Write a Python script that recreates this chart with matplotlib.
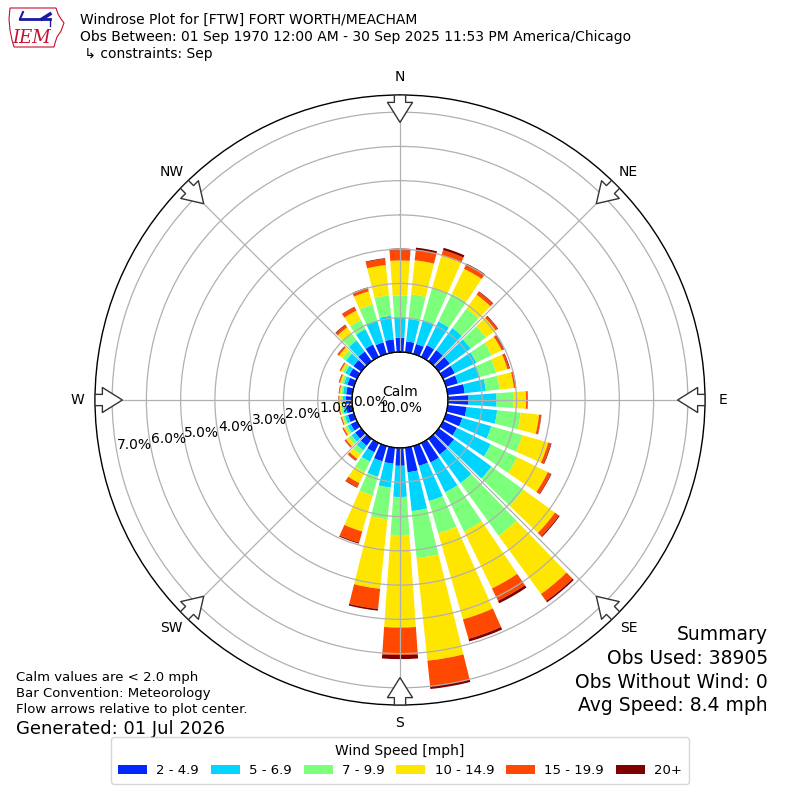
import matplotlib
matplotlib.use('Agg')
import matplotlib.pyplot as plt
from matplotlib.patches import Patch, Polygon
import numpy as np

# direccion (centro del sector, grados desde el norte) - 36 sectores de 10 grados
directions = np.arange(0, 360, 10)

speed_labels = ['2 - 4.9', '5 - 6.9', '7 - 9.9', '10 - 14.9', '15 - 19.9', '20+']
speed_colors = ['#0028ff', '#00d4ff', '#7cff7a', '#ffe600', '#ff4800', '#800000']

# frecuencia (%) por sector para cada intervalo de velocidad
pct_2_5 = [0.42, 0.32, 0.30, 0.38, 0.40, 0.40, 0.38, 0.36, 0.50, 0.60,
           0.55, 0.49, 0.45, 0.55, 0.57, 0.63, 0.60, 0.72, 0.52, 0.47,
           0.46, 0.30, 0.25, 0.22, 0.20, 0.18, 0.18, 0.18, 0.18, 0.20,
           0.25, 0.28, 0.35, 0.40, 0.35, 0.38]
pct_5_7 = [0.60, 0.66, 0.73, 0.77, 0.80, 0.75, 0.70, 0.67, 0.62, 0.82,
           0.90, 0.88, 1.10, 1.35, 1.03, 0.97, 1.07, 1.14, 0.91, 0.70,
           0.47, 0.30, 0.17, 0.13, 0.10, 0.09, 0.09, 0.09, 0.09, 0.10,
           0.13, 0.27, 0.40, 0.50, 0.65, 0.69]
pct_7_10 = [0.63, 0.72, 0.97, 0.90, 0.70, 0.55, 0.50, 0.49, 0.40, 0.49,
            0.69, 0.94, 0.86, 1.15, 1.90, 1.27, 0.98, 1.38, 1.11, 0.93,
            0.57, 0.35, 0.15, 0.11, 0.07, 0.06, 0.06, 0.06, 0.06, 0.07,
            0.08, 0.13, 0.25, 0.30, 0.50, 0.60]
pct_10_15 = [1.02, 1.00, 0.98, 0.81, 0.50, 0.35, 0.32, 0.34, 0.42, 0.37,
             0.54, 0.79, 0.99, 1.14, 2.10, 1.85, 2.61, 3.01, 2.70, 2.04,
             1.09, 0.35, 0.15, 0.09, 0.06, 0.04, 0.04, 0.04, 0.04, 0.05,
             0.06, 0.12, 0.22, 0.30, 0.40, 0.89]
pct_15_20 = [0.30, 0.30, 0.17, 0.14, 0.10, 0.07, 0.06, 0.06, 0.05, 0.04,
             0.06, 0.08, 0.10, 0.14, 0.25, 0.40, 0.59, 0.75, 0.80, 0.59,
             0.34, 0.13, 0.07, 0.04, 0.03, 0.02, 0.02, 0.02, 0.02, 0.03,
             0.03, 0.05, 0.08, 0.12, 0.10, 0.18]
pct_20 = [0.05, 0.07, 0.07, 0.03, 0.02, 0.02, 0.02, 0.02, 0.02, 0.01,
          0.01, 0.02, 0.02, 0.03, 0.05, 0.08, 0.08, 0.08, 0.12, 0.05,
          0.03, 0.02, 0.01, 0.01, 0.01, 0.01, 0.01, 0.01, 0.01, 0.01,
          0.01, 0.01, 0.02, 0.01, 0.02, 0.02]

calm_pct = 10.0
r_ticks = [0, 1, 2, 3, 4, 5, 6, 7]
compass = ['N', 'NE', 'E', 'SE', 'S', 'SW', 'W', 'NW']

fig = plt.figure(figsize=(8, 8), dpi=100)
ax = fig.add_axes([95 / 800, 95 / 800, 610 / 800, 610 / 800], projection='polar')
ax.set_theta_zero_location('N')
ax.set_theta_direction(-1)
ax.set_rorigin(-1.4)
ax.set_ylim(0, 7.5)

theta = np.deg2rad(directions)
width = np.deg2rad(8)
bottom = np.zeros(len(directions))
for vals, col in zip([pct_2_5, pct_5_7, pct_7_10, pct_10_15, pct_15_20, pct_20], speed_colors):
    vals = np.array(vals)
    ax.bar(theta, vals, width=width, bottom=bottom, color=col, linewidth=0, zorder=2)
    bottom = bottom + vals

# borde del circulo de calmas
circ = np.linspace(0, 2 * np.pi, 361)
ax.plot(circ, np.zeros_like(circ), color='black', lw=1, zorder=4, clip_on=False)

# rejilla (por encima de las barras, como en el original)
ax.set_axisbelow(False)
ax.set_xticks(np.deg2rad(np.arange(0, 360, 45)))
ax.set_xticklabels(compass, fontsize=10)
ax.tick_params(axis='x', pad=2.5)
ax.set_yticks(r_ticks)
ax.set_yticklabels(['%.1f%%' % v for v in r_ticks], fontsize=10)
ax.set_rlabel_position(259.5)
ax.grid(True, color='#b0b0b0', linewidth=0.9)
ax.spines['polar'].set_linewidth(1.0)

# flechas de flujo hacia el centro
for d in np.arange(0, 360, 45):
    ax.annotate('', xy=(np.deg2rad(d), 6.62), xytext=(np.deg2rad(d), 7.58),
                arrowprops=dict(arrowstyle='simple,head_length=0.8,head_width=1.0,tail_width=0.45',
                                mutation_scale=18, fc='white', ec='#333333', lw=1),
                annotation_clip=False, zorder=5)

ax.text(0, -1.4, 'Calm\n%.1f%%' % calm_pct, ha='center', va='center', fontsize=10, zorder=6)

# encabezado
fig.text(80 / 800, 1 - 20 / 800, 'Windrose Plot for [FTW] FORT WORTH/MEACHAM', fontsize=10, va='center')
fig.text(80 / 800, 1 - 37 / 800,
         'Obs Between: 01 Sep 1970 12:00 AM - 30 Sep 2025 11:53 PM America/Chicago', fontsize=10, va='center')
fig.text(80 / 800, 1 - 54 / 800, ' \u21b3 constraints: Sep', fontsize=10, va='center')

# logo IEM aproximado
lax = fig.add_axes([6 / 800, 1 - 50 / 800, 60 / 800, 46 / 800])
lax.set_xlim(0, 60)
lax.set_ylim(0, 46)
lax.axis('off')
iowa = [(4, 42), (50, 42), (52, 36), (55, 31), (58, 27), (55, 19), (51, 13), (49, 7), (48, 3),
        (8, 3), (6, 10), (4, 20), (3, 31)]
lax.add_patch(Polygon(iowa, closed=True, fill=False, ec='#c8102e', lw=0.8))
lax.plot([14, 44], [31, 31], color='#1a1aa0', lw=2)
lax.plot([14, 17], [31, 38], color='#1a1aa0', lw=1.5)
lax.plot([36, 44], [31, 36], color='#1a1aa0', lw=2.5)
lax.plot([44, 44], [31, 24], color='#1a1aa0', lw=1)
lax.text(26, 12, 'IEM', color='#c8102e', fontsize=13, family='serif', style='italic', ha='center', va='center')

# notas inferiores
fig.text(16 / 800, 1 - 677 / 800, 'Calm values are < 2.0 mph', fontsize=9.5, va='center')
fig.text(16 / 800, 1 - 693 / 800, 'Bar Convention: Meteorology', fontsize=9.5, va='center')
fig.text(16 / 800, 1 - 710 / 800, 'Flow arrows relative to plot center.', fontsize=9.5, va='center')
fig.text(16 / 800, 1 - 729 / 800, 'Generated: 01 Jul 2026', fontsize=13, va='center')

summary = ['Summary', 'Obs Used: 38905', 'Obs Without Wind: 0', 'Avg Speed: 8.4 mph']
for i, s in enumerate(summary):
    fig.text(768 / 800, 1 - (635 + 23.5 * i) / 800, s, fontsize=13.5, ha='right', va='center')

handles = [Patch(facecolor=c, edgecolor='none') for c in speed_colors]
fig.legend(handles, speed_labels, loc='lower center', bbox_to_anchor=(0.5, 0.012), ncol=6,
           title='Wind Speed [mph]', fontsize=9.5, title_fontsize=10,
           handlelength=2.2, handleheight=0.7, handletextpad=0.7, columnspacing=0.9,
           fancybox=True, borderpad=0.5)

fig.savefig('out.png', dpi=100)
